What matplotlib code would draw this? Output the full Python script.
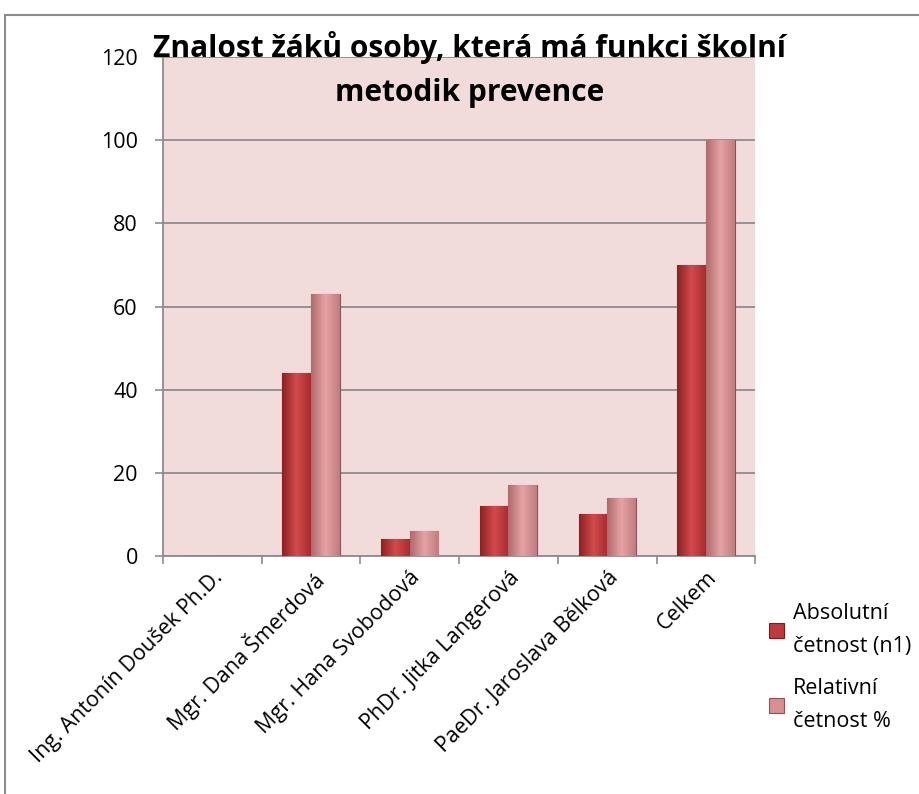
import numpy as np
import matplotlib.pyplot as plt
from matplotlib.patches import Rectangle
from matplotlib.colors import LinearSegmentedColormap

# Data
kategorie = ['Ing. Antonín Doušek Ph.D.', 'Mgr. Dana Šmerdová', 'Mgr. Hana Svobodová',
             'PhDr. Jitka Langerová', 'PaeDr. Jaroslava Bělková', 'Celkem']
absolutni = [0, 44, 4, 12, 10, 70]
relativni = [0, 63, 6, 17, 14, 100]
nazvy = ['Absolutní\nčetnost (n1)', 'Relativní\nčetnost %']

plt.rcParams['font.family'] = ['Open Sans', 'DejaVu Sans']

fig = plt.figure(figsize=(9.2, 7.94), dpi=100)
ax = fig.add_axes([0.177, 0.2997, 0.644, 0.6283])

# vnější rámeček grafu
fig.patches.append(Rectangle((5 / 920, -0.1), 1.1, 1 - 15 / 794 + 0.1, transform=fig.transFigure,
                             fill=False, edgecolor='#8c8c8c', linewidth=1.5))

ax.set_facecolor('#f2dcdb')
x = np.arange(len(kategorie))
w = 0.29
b1 = ax.bar(x - w / 2, absolutni, w, color='#c0393b', edgecolor='#7a1c1e', linewidth=0.8,
            label=nazvy[0], zorder=3)
b2 = ax.bar(x + w / 2, relativni, w, color='#d98f90', edgecolor='#8a5456', linewidth=0.8,
            label=nazvy[1], zorder=3)

# stínovaný efekt na sloupcích
for bars, cols in ((b1, ['#8e2022', '#d24a4c', '#a82c2e']), (b2, ['#b06a6c', '#e6a3a4', '#c07c7e'])):
    cm = LinearSegmentedColormap.from_list('g', cols)
    grad = np.linspace(0, 1, 64).reshape(1, -1)
    for r in bars:
        if r.get_height() <= 0:
            continue
        im = ax.imshow(grad, cmap=cm, aspect='auto', zorder=3.5,
                       extent=[r.get_x(), r.get_x() + r.get_width(), 0, r.get_height()])
        im.set_clip_path(r)

ax.set_xlim(-0.5, len(kategorie) - 0.5)
ax.set_ylim(0, 120)
ax.set_yticks(range(0, 121, 20))
ax.yaxis.grid(True, color='#8c8c8c', linewidth=1.3, zorder=1)
ax.set_axisbelow(True)
ax.set_xticks(x)
ax.set_xticklabels(kategorie, rotation=45, ha='right', rotation_mode='anchor', fontsize=15.5)
ax.set_xticks(np.arange(-0.5, len(kategorie)), minor=True)
ax.tick_params(axis='x', which='major', length=0, pad=8)
ax.tick_params(axis='x', which='minor', length=6, color='#8c8c8c', width=1.2)
ax.tick_params(axis='y', length=6, color='#8c8c8c', width=1.2, labelsize=15.5, pad=12)
for s in ['top', 'right']:
    ax.spines[s].set_visible(False)
for s in ['left', 'bottom']:
    ax.spines[s].set_color('#8c8c8c')
    ax.spines[s].set_linewidth(1.3)

fig.text(0.51, 0.912, 'Znalost žáků osoby, která má funkci školní\nmetodik prevence', ha='center',
         va='center', fontsize=21.5, fontweight='bold', linespacing=1.6)

leg = ax.legend(loc='upper left', bbox_to_anchor=(0.815, 0.265), bbox_transform=fig.transFigure,
                frameon=False, fontsize=15.5, handlelength=0.7, handleheight=0.7, labelspacing=1.0,
                handletextpad=0.4)
for t in leg.get_texts():
    t.set_linespacing(1.75)

fig.savefig('out.png', dpi=100)
